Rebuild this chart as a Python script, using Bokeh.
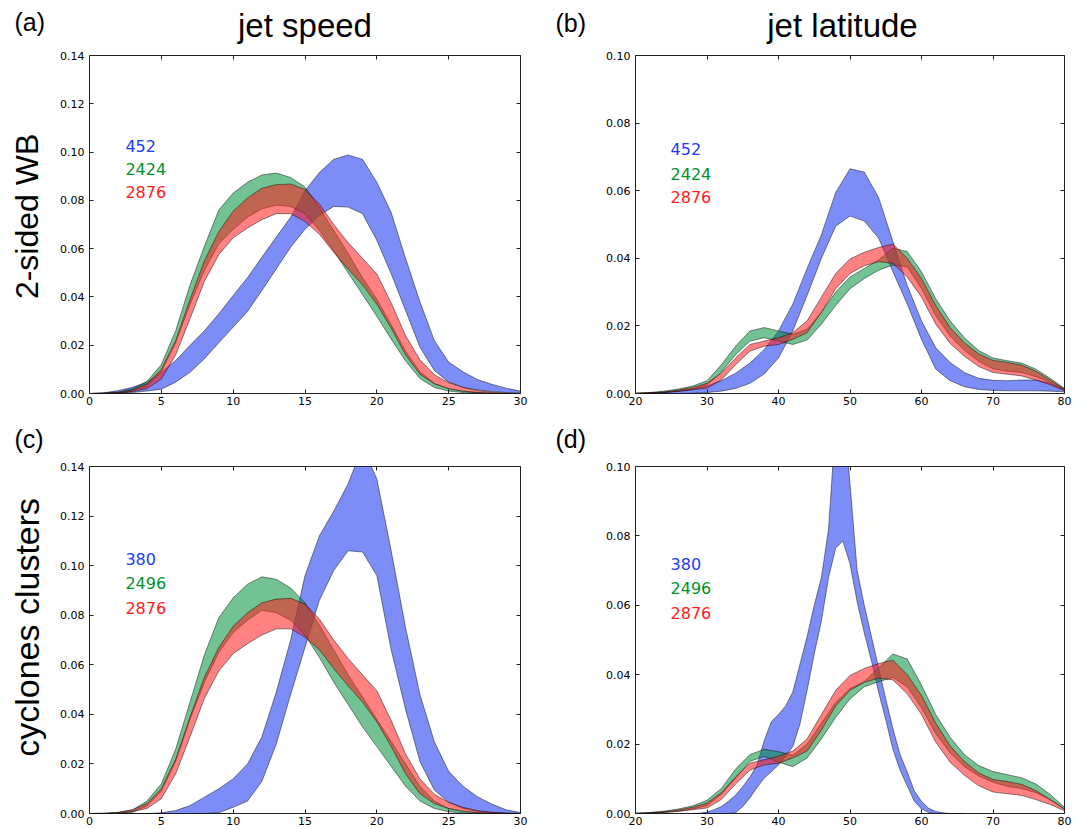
import math
from bokeh.plotting import figure
from bokeh.models import (Range1d, FixedTicker, LinearAxis, Label,
                          CustomJSTickFormatter, PrintfTickFormatter)
from bokeh.layouts import column, row
from bokeh.embed import file_html
from bokeh.resources import INLINE

# ---------------- data ----------------
speed = list(range(0, 31))
lat = list(range(20, 81, 2))
lat_fine = list(range(28, 67))

speed_ticks = [0, 5, 10, 15, 20, 25, 30]
lat_ticks = [20, 30, 40, 50, 60, 70, 80]
speed_yticks = [0.0, 0.02, 0.04, 0.06, 0.08, 0.10, 0.12, 0.14]
lat_yticks = [0.0, 0.02, 0.04, 0.06, 0.08, 0.10]

col_titles = ["jet speed", "jet latitude"]
row_titles = ["2-sided WB", "cyclones clusters"]
panel_tags = ["(a)", "(b)", "(c)", "(d)"]
counts_top = ["452", "2424", "2876"]
counts_bottom = ["380", "2496", "2876"]

# (a) jet speed, 2-sided WB
blue_a_hi = [0.0000, 0.0003, 0.0012, 0.0026, 0.0047, 0.0088, 0.0137, 0.0200, 0.0260, 0.0330, 0.0406,
             0.0480, 0.0565, 0.0648, 0.0730, 0.0840, 0.0915, 0.0970, 0.0988, 0.0970, 0.0875,
             0.0750, 0.0560, 0.0380, 0.0220, 0.0130, 0.0090, 0.0058, 0.0038, 0.0022, 0.0010]
blue_a_lo = [0.0000, 0.0000, 0.0001, 0.0004, 0.0010, 0.0018, 0.0047, 0.0088, 0.0144, 0.0210, 0.0275,
             0.0340, 0.0427, 0.0516, 0.0606, 0.0680, 0.0737, 0.0775, 0.0772, 0.0745, 0.0634,
             0.0496, 0.0344, 0.0192, 0.0095, 0.0047, 0.0026, 0.0015, 0.0008, 0.0004, 0.0002]
green_a_hi = [0.0000, 0.0002, 0.0006, 0.0020, 0.0050, 0.0120, 0.0260, 0.0450, 0.0610, 0.0760, 0.0830,
              0.0875, 0.0905, 0.0913, 0.0895, 0.0855, 0.0770, 0.0675, 0.0580, 0.0480, 0.0390,
              0.0285, 0.0175, 0.0090, 0.0042, 0.0020, 0.0009, 0.0004, 0.0001, 0.0000, 0.0000]
green_a_lo = [0.0000, 0.0000, 0.0002, 0.0010, 0.0030, 0.0090, 0.0210, 0.0370, 0.0510, 0.0620, 0.0680,
              0.0730, 0.0765, 0.0780, 0.0775, 0.0745, 0.0675, 0.0590, 0.0500, 0.0410, 0.0320,
              0.0225, 0.0135, 0.0062, 0.0025, 0.0010, 0.0004, 0.0001, 0.0000, 0.0000, 0.0000]
# 2876 reference (same in both rows)
red_speed_hi = [0.0000, 0.0001, 0.0004, 0.0015, 0.0040, 0.0100, 0.0220, 0.0390, 0.0550, 0.0670, 0.0755,
                0.0810, 0.0850, 0.0865, 0.0868, 0.0845, 0.0785, 0.0700, 0.0625, 0.0560, 0.0495,
                0.0375, 0.0240, 0.0140, 0.0078, 0.0045, 0.0025, 0.0012, 0.0005, 0.0002, 0.0000]
red_speed_lo = [0.0000, 0.0000, 0.0001, 0.0008, 0.0020, 0.0060, 0.0160, 0.0310, 0.0465, 0.0575, 0.0645,
                0.0685, 0.0720, 0.0745, 0.0745, 0.0712, 0.0660, 0.0585, 0.0515, 0.0450, 0.0370,
                0.0270, 0.0160, 0.0080, 0.0040, 0.0020, 0.0010, 0.0004, 0.0001, 0.0000, 0.0000]

# (c) jet speed, cyclones clusters
blue_c_hi = [0.0000, 0.0000, 0.0000, 0.0000, 0.0000, 0.0003, 0.0012, 0.0032, 0.0066, 0.0100, 0.0140,
             0.0200, 0.0310, 0.0490, 0.0700, 0.0960, 0.1120, 0.1220, 0.1330, 0.1480, 0.1350,
             0.1060, 0.0750, 0.0480, 0.0290, 0.0170, 0.0110, 0.0068, 0.0038, 0.0015, 0.0004]
blue_c_lo = [0.0000, 0.0000, 0.0000, 0.0000, 0.0000, 0.0000, 0.0000, 0.0000, 0.0000, 0.0003, 0.0025,
             0.0050, 0.0130, 0.0280, 0.0480, 0.0670, 0.0860, 0.0980, 0.1060, 0.1055, 0.0960,
             0.0660, 0.0420, 0.0210, 0.0095, 0.0045, 0.0020, 0.0008, 0.0003, 0.0001, 0.0000]
green_c_hi = [0.0000, 0.0001, 0.0005, 0.0015, 0.0050, 0.0120, 0.0260, 0.0450, 0.0640, 0.0790, 0.0870,
              0.0925, 0.0955, 0.0945, 0.0910, 0.0850, 0.0760, 0.0660, 0.0560, 0.0470, 0.0380,
              0.0290, 0.0200, 0.0110, 0.0050, 0.0020, 0.0008, 0.0003, 0.0001, 0.0000, 0.0000]
green_c_lo = [0.0000, 0.0000, 0.0001, 0.0005, 0.0030, 0.0090, 0.0210, 0.0380, 0.0530, 0.0650, 0.0730,
              0.0780, 0.0820, 0.0810, 0.0780, 0.0720, 0.0630, 0.0530, 0.0440, 0.0350, 0.0270,
              0.0190, 0.0110, 0.0050, 0.0020, 0.0007, 0.0002, 0.0001, 0.0000, 0.0000, 0.0000]

# (b) jet latitude, 2-sided WB
blue_b_hi = [0.0000, 0.0002, 0.0004, 0.0008, 0.0013, 0.0022, 0.0038, 0.0060, 0.0090, 0.0130, 0.0185,
             0.0265, 0.0370, 0.0470, 0.0595, 0.0665, 0.0655, 0.0580, 0.0450, 0.0320, 0.0215,
             0.0135, 0.0092, 0.0062, 0.0045, 0.0039, 0.0038, 0.0040, 0.0040, 0.0030, 0.0013]
blue_b_lo = [0.0000, 0.0000, 0.0000, 0.0000, 0.0001, 0.0003, 0.0007, 0.0015, 0.0030, 0.0058, 0.0105,
             0.0185, 0.0290, 0.0400, 0.0495, 0.0525, 0.0510, 0.0460, 0.0360, 0.0265, 0.0160,
             0.0072, 0.0038, 0.0020, 0.0012, 0.0009, 0.0008, 0.0008, 0.0008, 0.0007, 0.0005]
green_b_hi = [0.0001, 0.0003, 0.0007, 0.0013, 0.0022, 0.0038, 0.0085, 0.0140, 0.0185, 0.0195, 0.0185,
              0.0175, 0.0190, 0.0240, 0.0300, 0.0345, 0.0370, 0.0395, 0.0430, 0.0420, 0.0360,
              0.0280, 0.0215, 0.0165, 0.0127, 0.0105, 0.0097, 0.0090, 0.0072, 0.0045, 0.0015]
green_b_lo = [0.0000, 0.0001, 0.0003, 0.0007, 0.0013, 0.0025, 0.0063, 0.0115, 0.0155, 0.0165, 0.0155,
              0.0145, 0.0158, 0.0205, 0.0260, 0.0310, 0.0340, 0.0365, 0.0380, 0.0375, 0.0310,
              0.0230, 0.0170, 0.0128, 0.0095, 0.0073, 0.0066, 0.0062, 0.0050, 0.0032, 0.0010]
red_lat_hi = [0.0001, 0.0002, 0.0005, 0.0010, 0.0018, 0.0030, 0.0060, 0.0105, 0.0145, 0.0155, 0.0165,
              0.0180, 0.0215, 0.0285, 0.0355, 0.0398, 0.0418, 0.0432, 0.0442, 0.0400, 0.0340,
              0.0260, 0.0195, 0.0150, 0.0117, 0.0098, 0.0092, 0.0084, 0.0066, 0.0040, 0.0013]
red_lat_lo = [0.0000, 0.0001, 0.0003, 0.0006, 0.0011, 0.0016, 0.0040, 0.0085, 0.0125, 0.0140, 0.0145,
              0.0160, 0.0180, 0.0240, 0.0310, 0.0355, 0.0378, 0.0390, 0.0385, 0.0345, 0.0285,
              0.0205, 0.0148, 0.0110, 0.0080, 0.0062, 0.0057, 0.0052, 0.0040, 0.0026, 0.0008]

# (d) jet latitude, cyclones clusters
blue_d_hi = [0.0000, 0.0001, 0.0004, 0.0011, 0.0020, 0.0035, 0.0053, 0.0078, 0.0105, 0.0140,
             0.0210, 0.0265, 0.0285, 0.0310, 0.0350, 0.0430, 0.0510, 0.0600, 0.0680, 0.0820,
             0.1130, 0.1200, 0.0950, 0.0700, 0.0600, 0.0510, 0.0420, 0.0330, 0.0245, 0.0170,
             0.0120, 0.0065, 0.0035, 0.0015, 0.0006, 0.0002, 0.0000, 0.0000, 0.0000]
blue_d_lo = [0.0000, 0.0000, 0.0000, 0.0000, 0.0000, 0.0000, 0.0002, 0.0020, 0.0045, 0.0075,
             0.0102, 0.0120, 0.0140, 0.0165, 0.0193, 0.0258, 0.0355, 0.0460, 0.0555, 0.0680,
             0.0765, 0.0785, 0.0720, 0.0610, 0.0520, 0.0440, 0.0350, 0.0270, 0.0185, 0.0125,
             0.0080, 0.0035, 0.0013, 0.0003, 0.0000, 0.0000, 0.0000, 0.0000, 0.0000]
green_d_hi = [0.0001, 0.0003, 0.0007, 0.0013, 0.0022, 0.0038, 0.0072, 0.0128, 0.0170, 0.0185, 0.0178,
              0.0168, 0.0200, 0.0260, 0.0320, 0.0360, 0.0380, 0.0420, 0.0460, 0.0445, 0.0370,
              0.0285, 0.0220, 0.0170, 0.0138, 0.0121, 0.0112, 0.0103, 0.0085, 0.0055, 0.0018]
green_d_lo = [0.0000, 0.0001, 0.0003, 0.0007, 0.0013, 0.0023, 0.0055, 0.0102, 0.0150, 0.0165, 0.0148,
              0.0135, 0.0160, 0.0215, 0.0277, 0.0330, 0.0365, 0.0380, 0.0392, 0.0365, 0.0305,
              0.0230, 0.0175, 0.0135, 0.0108, 0.0090, 0.0078, 0.0072, 0.0060, 0.0040, 0.0013]

# ---------------- styling ----------------
BLUE, GREEN, RED = "#1030f0", "#00903a", "#ff1a1a"
FILL_ALPHA = 0.55
TEXT_BLUE, TEXT_GREEN, TEXT_RED = "#1a3cff", "#00922a", "#ff1a1a"
TITLE_FONT = "Liberation Sans"
TICK_FONT = "DejaVu Sans"


def make_panel(xr, yr, fw, fh, bl, br, bt, bb, xticks, yticks):
    p = figure(x_range=Range1d(*xr), y_range=Range1d(*yr),
               frame_width=fw, frame_height=fh,
               min_border_left=bl, min_border_right=br,
               min_border_top=bt, min_border_bottom=bb,
               x_axis_location=None, y_axis_location=None,
               output_backend="svg", toolbar_location=None)
    p.xgrid.grid_line_color = None
    p.ygrid.grid_line_color = None
    p.outline_line_color = "#222222"
    p.outline_line_width = 1
    for side in ("below", "left", "above", "right"):
        ticks = xticks if side in ("below", "above") else yticks
        ax = LinearAxis(ticker=FixedTicker(ticks=ticks))
        ax.axis_line_color = None
        ax.major_tick_in = 4
        ax.major_tick_out = 0
        ax.major_tick_line_color = "#222222"
        ax.minor_tick_line_color = None
        if side in ("above", "right"):
            ax.formatter = CustomJSTickFormatter(code="return ''")
            ax.major_label_standoff = 0
        else:
            ax.major_label_text_font = TICK_FONT
            ax.major_label_text_font_size = "11px"
            ax.major_label_text_color = "black"
            if side == "left":
                ax.formatter = PrintfTickFormatter(format="%.2f")
                ax.major_label_standoff = 5
            else:
                ax.major_label_standoff = 3
        p.add_layout(ax, side)
    return p


def text_strip(w, h):
    """Blank figure used only to hold text, with a pixel coordinate system
    (x to the right, y downward from its top edge)."""
    s = figure(width=w, height=h, x_range=Range1d(0, w), y_range=Range1d(h, 0),
               min_border=0, x_axis_location=None, y_axis_location=None,
               title=None, output_backend="svg", toolbar_location=None)
    s.xgrid.grid_line_color = None
    s.ygrid.grid_line_color = None
    s.outline_line_color = None
    return s


def put(s, x, y, text, size, color="black", align="left", angle=0.0, font=TITLE_FONT):
    s.add_layout(Label(x=x, y=y, text=text, text_font=font, text_font_size=size,
                       text_color=color, text_align=align, text_baseline="middle",
                       angle=angle))


def band(p, x, hi, lo, color):
    xs = list(x) + list(x)[::-1]
    ys = list(hi) + list(lo)[::-1]
    p.patch(xs, ys, fill_color=color, fill_alpha=FILL_ALPHA,
            line_color="black", line_alpha=0.45, line_width=1)


def count_labels(p, xpos, ys, labels):
    for yv, txt, c in zip(ys, labels, (TEXT_BLUE, TEXT_GREEN, TEXT_RED)):
        p.add_layout(Label(x=xpos, y=yv, text=txt, text_font=TICK_FONT,
                           text_font_size="16px", text_color=c,
                           text_align="left", text_baseline="middle"))


# ---------------- layout geometry (page pixels) ----------------
SIDE_W = 50
TOTAL_W = 1074
HEAD1_H = 47
HEAD2_H = 35

pa = make_panel((0, 30), (0, 0.14), 431, 338, 39, 30, 8, 30, speed_ticks, speed_yticks)
pb = make_panel((20, 80), (0, 0.10), 429, 338, 85, 10, 8, 30, lat_ticks, lat_yticks)
pc = make_panel((0, 30), (0, 0.14), 431, 347, 39, 30, 8, 15, speed_ticks, speed_yticks)
pd = make_panel((20, 80), (0, 0.10), 429, 347, 85, 10, 8, 15, lat_ticks, lat_yticks)

band(pa, speed, blue_a_hi, blue_a_lo, BLUE)
band(pa, speed, green_a_hi, green_a_lo, GREEN)
band(pa, speed, red_speed_hi, red_speed_lo, RED)

band(pc, speed, blue_c_hi, blue_c_lo, BLUE)
band(pc, speed, green_c_hi, green_c_lo, GREEN)
band(pc, speed, red_speed_hi, red_speed_lo, RED)

band(pb, lat, blue_b_hi, blue_b_lo, BLUE)
band(pb, lat, green_b_hi, green_b_lo, GREEN)
band(pb, lat, red_lat_hi, red_lat_lo, RED)

band(pd, lat_fine, blue_d_hi, blue_d_lo, BLUE)
band(pd, lat, green_d_hi, green_d_lo, GREEN)
band(pd, lat, red_lat_hi, red_lat_lo, RED)

count_labels(pa, 2.5, [0.1025, 0.0930, 0.0835], counts_top)
count_labels(pc, 2.5, [0.1028, 0.0928, 0.0831], counts_bottom)
count_labels(pb, 24.9, [0.0722, 0.0650, 0.0581], counts_top)
count_labels(pd, 24.9, [0.0720, 0.0649, 0.0578], counts_bottom)

# header strip 1: panel tags (a), (b) and column titles
head1 = text_strip(TOTAL_W, HEAD1_H)
put(head1, 14, 21, panel_tags[0], "25px")
put(head1, 304.5, 25, col_titles[0], "33px", align="center")
put(head1, 555, 22, panel_tags[1], "25px")
put(head1, 842, 25, col_titles[1], "33px", align="center")

# header strip 2: panel tags (c), (d)
head2 = text_strip(TOTAL_W, HEAD2_H)
put(head2, 14, 15, panel_tags[2], "25px")
put(head2, 555, 15, panel_tags[3], "25px")

# side strips: row titles (rotated)
side1 = text_strip(SIDE_W, 376)
put(side1, 26, 8 + 338 / 2 + 2, row_titles[0], "32px", align="center", angle=math.pi / 2)
side2 = text_strip(SIDE_W, 370)
put(side2, 26, 8 + 347 / 2 - 10, row_titles[1], "34px", align="center", angle=math.pi / 2)

layout = column(head1, row(side1, pa, pb), head2, row(side2, pc, pd))
open("out.html", "w").write(file_html(layout, INLINE))
